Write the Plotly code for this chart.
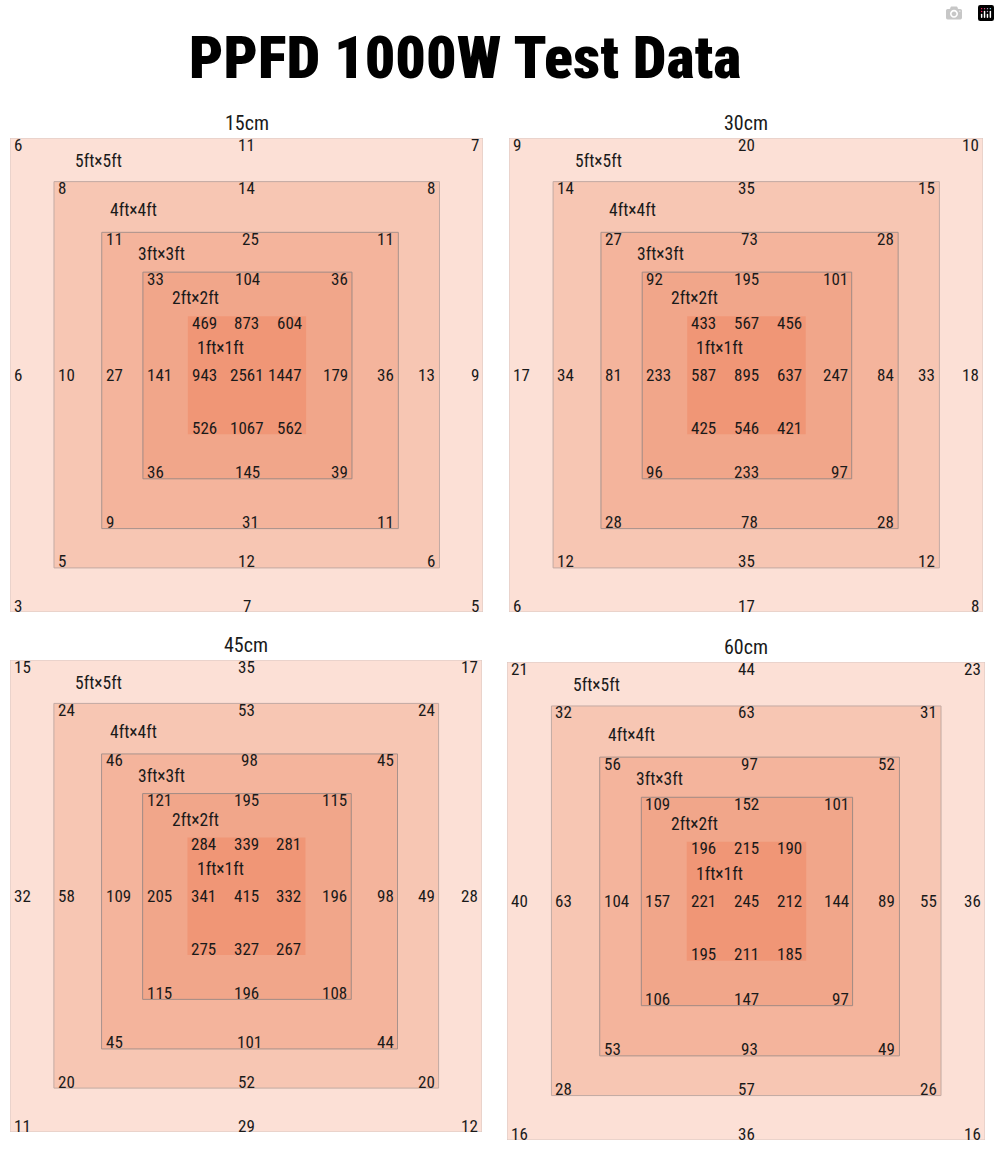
import plotly.graph_objects as go

TITLE = "PPFD 1000W Test Data"
HEIGHTS = ["15cm", "30cm", "45cm", "60cm"]
ZONES = ["5ft×5ft", "4ft×4ft", "3ft×3ft", "2ft×2ft", "1ft×1ft"]

# readings per zone (outer 5ft -> inner 1ft), order: TL, T, TR, L, R, BL, B, BR
ppfd_15cm = [
    [6, 11, 7, 6, 9, 3, 7, 5],
    [8, 14, 8, 10, 13, 5, 12, 6],
    [11, 25, 11, 27, 36, 9, 31, 11],
    [33, 104, 36, 141, 179, 36, 145, 39],
    [469, 873, 604, 943, 1447, 526, 1067, 562],
]
ppfd_30cm = [
    [9, 20, 10, 17, 18, 6, 17, 8],
    [14, 35, 15, 34, 33, 12, 35, 12],
    [27, 73, 28, 81, 84, 28, 78, 28],
    [92, 195, 101, 233, 247, 96, 233, 97],
    [433, 567, 456, 587, 637, 425, 546, 421],
]
ppfd_45cm = [
    [15, 35, 17, 32, 28, 11, 29, 12],
    [24, 53, 24, 58, 49, 20, 52, 20],
    [46, 98, 45, 109, 98, 45, 101, 44],
    [121, 195, 115, 205, 196, 115, 196, 108],
    [284, 339, 281, 341, 332, 275, 327, 267],
]
ppfd_60cm = [
    [21, 44, 23, 40, 36, 16, 36, 16],
    [32, 63, 31, 63, 55, 28, 57, 26],
    [56, 97, 52, 104, 89, 53, 93, 49],
    [109, 152, 101, 157, 144, 106, 147, 97],
    [196, 215, 190, 221, 212, 195, 211, 185],
]
# centre point of each map
ppfd_center = [2561, 895, 415, 245]

panels = [ppfd_15cm, ppfd_30cm, ppfd_45cm, ppfd_60cm]

# ---- layout (pixels of the 1000x1167 page) ----
W, H = 1000, 1167
boxes = [(10, 483, 138, 612), (509, 983, 138, 612),
         (10, 482, 660, 1132), (507, 985, 662, 1140)]
title_y = [123, 123, 645, 647]
# square extents as fractions of the outer square (x0, x1, y0, y1), y from top
squares = [(0, 1, 0, 1), (0.093, 0.908, 0.092, 0.907), (0.194, 0.821, 0.199, 0.824),
           (0.281, 0.723, 0.283, 0.719), (0.376, 0.626, 0.376, 0.625)]
label_pos = [(0.188, 0.049), (0.261, 0.152), (0.320, 0.245), (0.392, 0.338), (0.445, 0.443)]
fills = ["#fce0d6", "#f7c6b3", "#f4b49c", "#f1a68a", "#f09676"]
borders = ["#d8c6c1", "#c2aaa3", "#a8928c", "#a08a84", None]

FONT = "Roboto Condensed, Liberation Sans Narrow, Liberation Sans, sans-serif"
NUM = dict(family=FONT, size=17, color="#1a1a1a")

fig = go.Figure()
annotations = []
shapes = []

for i, (vals, box) in enumerate(zip(panels, boxes)):
    n = "" if i == 0 else str(i + 1)
    x0, x1, y0, y1 = box
    fig.update_layout(**{
        f"xaxis{n}": dict(domain=[x0 / W, x1 / W], range=[0, 1], visible=False, fixedrange=True),
        f"yaxis{n}": dict(domain=[1 - y1 / H, 1 - y0 / H], range=[1, 0], visible=False,
                          fixedrange=True, anchor=f"x{n}"),
    })
    xr, yr = f"x{n}", f"y{n}"
    px = 1 / (x1 - x0)
    py = 1 / (y1 - y0)

    for k, (sx0, sx1, sy0, sy1) in enumerate(squares):
        line = dict(width=0) if borders[k] is None else dict(color=borders[k], width=1)
        shapes.append(dict(type="rect", xref=xr, yref=yr, x0=sx0, x1=sx1, y0=sy0, y1=sy1,
                           fillcolor=fills[k], line=line, layer="below"))

        pad = 2 * px
        dy = 6.5 * py
        cx = (sx0 + sx1) / 2
        spots = [(sx0 + pad, sy0 + dy, "left"), (cx, sy0 + dy, "center"), (sx1 - pad, sy0 + dy, "right"),
                 (sx0 + pad, 0.5, "left"), (sx1 - pad, 0.5, "right"),
                 (sx0 + pad, sy1 - dy, "left"), (cx, sy1 - dy, "center"), (sx1 - pad, sy1 - dy, "right")]
        for v, (tx, ty, xa) in zip(vals[k], spots):
            annotations.append(dict(xref=xr, yref=yr, x=tx, y=ty, text=str(v), showarrow=False,
                                    xanchor=xa, yanchor="middle", font=NUM))
        lx, ly = label_pos[k]
        annotations.append(dict(xref=xr, yref=yr, x=lx, y=ly, text=ZONES[k], showarrow=False,
                                xanchor="center", yanchor="middle",
                                font=dict(family=FONT, size=17.5, color="#1a1a1a")))

    annotations.append(dict(xref=xr, yref=yr, x=0.5, y=0.5, text=str(ppfd_center[i]), showarrow=False,
                            xanchor="center", yanchor="middle", font=NUM))
    annotations.append(dict(xref="paper", yref="paper", x=(x0 + x1) / 2 / W, y=1 - title_y[i] / H,
                            text=HEIGHTS[i], showarrow=False, xanchor="center", yanchor="middle",
                            font=dict(family=FONT, size=20, color="#1a1a1a")))

annotations.append(dict(xref="paper", yref="paper", x=465 / W, y=1 - 57 / H, text=TITLE,
                        showarrow=False, xanchor="center", yanchor="middle",
                        font=dict(family="Roboto Condensed, Liberation Sans, sans-serif",
                                  size=60, weight=900, color="#000000")))

fig.update_layout(width=W, height=H, margin=dict(l=0, r=0, t=0, b=0),
                  paper_bgcolor="white", plot_bgcolor="rgba(0,0,0,0)",
                  showlegend=False, shapes=shapes, annotations=annotations)

fig.write_html("out.html", post_script="document.body.style.margin='0';")
